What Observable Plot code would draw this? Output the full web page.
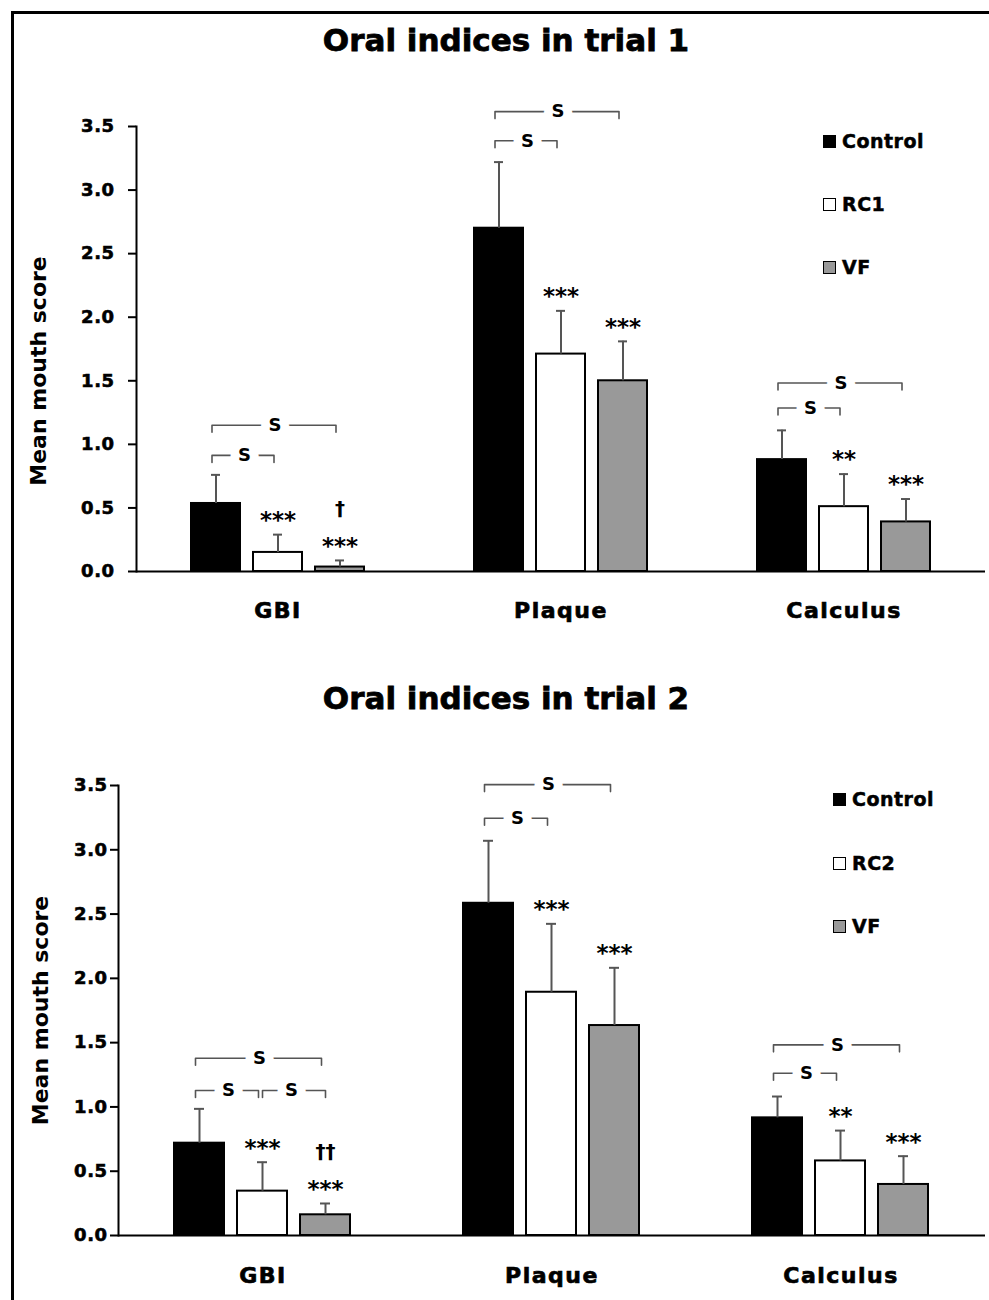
<!DOCTYPE html>
<html>
<head>
<meta charset="utf-8">
<script src="https://cdn.jsdelivr.net/npm/d3@7"></script>
<script src="https://cdn.jsdelivr.net/npm/@observablehq/plot@0.6"></script>
<style>
  body { margin: 0; background: #fff; }
  #fig { position: relative; width: 989px; height: 1300px; overflow: hidden; font-family: "DejaVu Sans"; font-weight: bold; color: #000; }
  .border { position: absolute; left: 11px; top: 11px; width: 1200px; height: 1500px; border-left: 3px solid #000; border-top: 3px solid #000; }
  .title { position: absolute; left: 12px; width: 988px; text-align: center; font-size: 31px; line-height: 31px; -webkit-text-stroke: 0.8px #000; }
  .chart { position: absolute; left: 0; }
  .legend-item { position: absolute; display: flex; align-items: center; white-space: nowrap; font-size: 19px; line-height: 22px; letter-spacing: 0.5px; -webkit-text-stroke: 0.5px #000; }
  .legend-item .sw { width: 11px; height: 11px; border: 1.5px solid #000; margin-right: 6px; -webkit-text-stroke: 0; }
  svg g[aria-label="y-axis tick label"] text { letter-spacing: 0.5px; stroke: #000; stroke-width: 0.6px; }
  svg g[aria-label="fx-axis tick label"] text { letter-spacing: 1.5px; stroke: #000; stroke-width: 0.7px; }
  svg g[aria-label="stars"] text { letter-spacing: 1.5px; }
  svg g[aria-label="ylabel"] text { letter-spacing: 1.2px; stroke: #000; stroke-width: 0.7px; }
</style>
</head>
<body>
<div id="fig">
  <div class="border"></div>
</div>
<script>
// ---------- data ----------
const categories = ["GBI", "Plaque", "Calculus"];
const yTicks = [0, 0.5, 1.0, 1.5, 2.0, 2.5, 3.0, 3.5];
const fills = ["#000000", "#ffffff", "#999999"];
const titles = ["Oral indices in trial 1", "Oral indices in trial 2"];
const yLabel = "Mean mouth score";

// Trial 1
const groups1 = ["Control", "RC1", "VF"];
const t1ControlMean = [0.535, 2.70, 0.88];
const t1ControlSD   = [0.225, 0.52, 0.23];
const t1RC1Mean     = [0.15, 1.71, 0.51];
const t1RC1SD       = [0.14, 0.34, 0.256];
const t1VFMean      = [0.035, 1.50, 0.39];
const t1VFSD        = [0.052, 0.31, 0.18];
const t1Stars = [["GBI","RC1","***"],["GBI","VF","***"],["Plaque","RC1","***"],["Plaque","VF","***"],["Calculus","RC1","**"],["Calculus","VF","***"]];
const t1Daggers = [["GBI","VF","†"]];
// brackets: category, from, to, level (score units)
const t1Brackets = [["GBI","Control","VF",1.15],["GBI","Control","RC1",0.913],["Plaque","Control","VF",3.617],["Plaque","Control","RC1",3.388],["Calculus","Control","VF",1.483],["Calculus","Control","RC1",1.286]];

// Trial 2
const groups2 = ["Control", "RC2", "VF"];
const t2ControlMean = [0.718, 2.584, 0.915];
const t2ControlSD   = [0.267, 0.486, 0.166];
const t2RC2Mean     = [0.345, 1.892, 0.58];
const t2RC2SD       = [0.225, 0.532, 0.236];
const t2VFMean      = [0.161, 1.633, 0.397];
const t2VFSD        = [0.088, 0.449, 0.22];
const t2Stars = [["GBI","RC2","***"],["GBI","VF","***"],["Plaque","RC2","***"],["Plaque","VF","***"],["Calculus","RC2","**"],["Calculus","VF","***"]];
const t2Daggers = [["GBI","VF","††"]];
const t2Brackets = [["GBI","Control","VF",1.379],["GBI","Control","RC2",1.128],["GBI","RC2","VF",1.128],["Plaque","Control","VF",3.507],["Plaque","Control","RC2",3.245],["Calculus","Control","VF",1.483],["Calculus","Control","RC2",1.262]];

// ---------- builder ----------
function makeChart(cfg) {
  const rows = categories.flatMap((c, i) => cfg.groups.map((g, j) => {
    const mean = cfg.means[j][i], sd = cfg.sds[j][i];
    return {cat: c, group: g, mean, top: mean + sd};
  }));
  const find = (c, g) => rows.find(r => r.cat === c && r.group === g);
  const stars = cfg.stars.map(([c, g, t]) => ({cat: c, group: g, label: t, top: find(c, g).top}));
  const daggers = cfg.daggers.map(([c, g, t]) => ({cat: c, group: g, label: t, top: find(c, g).top}));
  const plotH = cfg.height - cfg.mt - cfg.mb;
  const tick = 7 * 3.5 / plotH;
  const toPts = list => list.flatMap(([c, a, b, lv], id) => [
    {id, cat: c, g: a, y: lv - tick},
    {id, cat: c, g: a, y: lv},
    {id, cat: c, g: b, y: lv},
    {id, cat: c, g: b, y: lv - tick}
  ]);
  const fromFirst = toPts(cfg.brackets.filter(b => b[1] === cfg.groups[0]));
  const fromOther = toPts(cfg.brackets.filter(b => b[1] !== cfg.groups[0]));
  const idx = g => cfg.groups.indexOf(g);
  const wide = cfg.brackets.filter(([c, a, b]) => idx(b) - idx(a) === 2).map(([c, a, b, lv]) => ({cat: c, g: cfg.groups[1], y: lv}));
  const narrow = cfg.brackets.filter(([c, a, b]) => idx(b) - idx(a) === 1).map(([c, a, b, lv]) => ({cat: c, g: a, y: lv}));

  return Plot.plot({
    width: 989,
    height: cfg.height,
    marginLeft: cfg.ml,
    marginRight: 4,
    marginTop: cfg.mt,
    marginBottom: cfg.mb,
    style: {fontFamily: "DejaVu Sans", fontWeight: "bold", color: "#000", background: "transparent", overflow: "visible"},
    fx: {domain: categories, padding: 0},
    x: {domain: cfg.groups, paddingInner: cfg.pi, paddingOuter: cfg.po, axis: null},
    y: {domain: [0, 3.5]},
    color: {domain: cfg.groups, range: fills},
    marks: [
      Plot.axisY({ticks: yTicks, tickFormat: d3.format(".1f"), tickSize: 8, tickPadding: cfg.tp, fontSize: 18, fontWeight: "bold", strokeWidth: 2, label: null}),
      Plot.frame({anchor: "left", facetAnchor: "left", stroke: "#000", strokeWidth: 2}),
      Plot.axisFx({anchor: "bottom", tickSize: 0, tickPadding: cfg.fxp, fontSize: 22, fontWeight: "bold", label: null}),
      Plot.text([yLabel], {text: d => d, frameAnchor: "left", textAnchor: "middle", facetAnchor: "left", rotate: -90, dx: cfg.ylx, dy: cfg.yly, fontSize: 22, fontWeight: "bold", ariaLabel: "ylabel"}),
      Plot.barY(rows, {fx: "cat", x: "group", y: "mean", fill: "group", stroke: "#000", strokeWidth: 2}),
      Plot.ruleX(rows, {fx: "cat", x: "group", y1: "mean", y2: "top", stroke: "#555", strokeWidth: 2}),
      Plot.tickY(rows, {fx: "cat", x: "group", y: "top", stroke: "#555", strokeWidth: 2, insetLeft: 20, insetRight: 20}),
      Plot.ruleY([0], {stroke: "#000", strokeWidth: 2}),
      Plot.text(stars, {fx: "cat", x: "group", y: "top", text: "label", dy: -14, fontSize: 23, ariaLabel: "stars"}),
      Plot.text(daggers, {fx: "cat", x: "group", y: "top", text: "label", dy: -52, fontSize: 20, ariaLabel: "stars"}),
      Plot.line(fromFirst, {fx: "cat", x: "g", y: "y", z: "id", stroke: "#555", strokeWidth: 1.6, dx: -4}),
      Plot.line(fromOther, {fx: "cat", x: "g", y: "y", z: "id", stroke: "#555", strokeWidth: 1.6, dx: 0}),
      Plot.text(wide, {fx: "cat", x: "g", y: "y", text: () => "S", dx: -3, fontSize: 18, stroke: "white", strokeWidth: 18, fill: "#000"}),
      Plot.text(narrow, {fx: "cat", x: "g", y: "y", text: () => "S", dx: cfg.half - 3, fontSize: 18, stroke: "white", strokeWidth: 18, fill: "#000"})
    ]
  });
}

const fig = document.getElementById("fig");

function addTitle(text, top) {
  const d = document.createElement("div");
  d.className = "title";
  d.style.top = top + "px";
  d.textContent = text;
  fig.appendChild(d);
}

function addChart(svg, top) {
  const d = document.createElement("div");
  d.className = "chart";
  d.style.top = top + "px";
  d.appendChild(svg);
  fig.appendChild(d);
}

function addLegend(groups, left, tops) {
  groups.forEach((g, i) => {
    const it = document.createElement("div");
    it.className = "legend-item";
    it.style.left = left + "px";
    it.style.top = tops[i] + "px";
    const sw = document.createElement("span");
    sw.className = "sw";
    sw.style.background = fills[i];
    const t = document.createElement("span");
    t.textContent = g;
    it.appendChild(sw);
    it.appendChild(t);
    fig.appendChild(it);
  });
}

addTitle(titles[0], 25);
addChart(makeChart({
  groups: groups1,
  means: [t1ControlMean, t1RC1Mean, t1VFMean],
  sds: [t1ControlSD, t1RC1SD, t1VFSD],
  stars: t1Stars, daggers: t1Daggers, brackets: t1Brackets,
  height: 551, mt: 46, mb: 60, ml: 135, tp: 14, fxp: 31,
  pi: 0.206, po: 0.853, half: 31.5,
  ylx: -98, yly: 22
}), 80);
addLegend(groups1, 823, [130, 193, 256]);

addTitle(titles[1], 683);
addChart(makeChart({
  groups: groups2,
  means: [t2ControlMean, t2RC2Mean, t2VFMean],
  sds: [t2ControlSD, t2RC2SD, t2VFSD],
  stars: t2Stars, daggers: t2Daggers, brackets: t2Brackets,
  height: 553, mt: 45, mb: 58, ml: 118, tp: 3, fxp: 32,
  pi: 0.203, po: 0.86, half: 32,
  ylx: -78, yly: 0
}), 740);
addLegend(groups2, 833, [788, 852, 915]);
</script>
</body>
</html>
